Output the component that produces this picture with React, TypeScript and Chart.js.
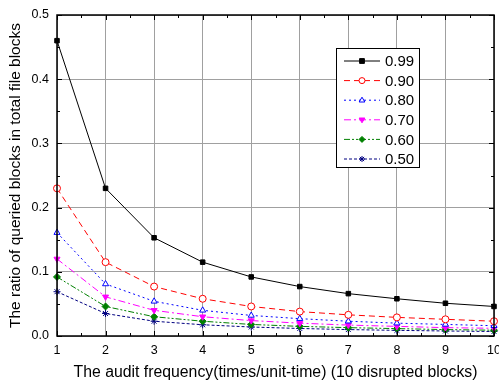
import React, { useEffect, useRef } from 'react';
import { Chart, registerables } from 'chart.js';

Chart.register(...registerables);

const frequencies = [1, 2, 3, 4, 5, 6, 7, 8, 9, 10];
const seriesLabels = ['0.99', '0.90', '0.80', '0.70', '0.60', '0.50'];
const values099 = [0.46, 0.23, 0.153, 0.115, 0.092, 0.077, 0.066, 0.058, 0.051, 0.046];
const values090 = [0.23, 0.115, 0.077, 0.058, 0.046, 0.038, 0.033, 0.029, 0.026, 0.023];
const values080 = [0.161, 0.081, 0.054, 0.04, 0.032, 0.027, 0.023, 0.02, 0.018, 0.016];
const values070 = [0.12, 0.061, 0.04, 0.03, 0.024, 0.02, 0.017, 0.015, 0.013, 0.012];
const values060 = [0.092, 0.046, 0.03, 0.023, 0.018, 0.015, 0.013, 0.0115, 0.01, 0.009];
const values050 = [0.069, 0.035, 0.023, 0.0175, 0.014, 0.0117, 0.01, 0.0088, 0.0078, 0.007];
const xTitle = 'The audit frequency(times/unit-time) (10 disrupted blocks)';
const yTitle = 'The ratio of queried blocks in total file blocks';

const styles = [
  { color: '#000000', dash: [] as number[], point: 'rect', rot: 0, fill: true },
  { color: '#FF0000', dash: [6, 4], point: 'circle', rot: 0, fill: false },
  { color: '#0000FF', dash: [2, 3], point: 'triangle', rot: 0, fill: false },
  { color: '#FF00FF', dash: [7, 3, 2, 3], point: 'triangle', rot: 180, fill: true },
  { color: '#008000', dash: [6, 2, 2, 2, 2, 2], point: 'rectRot', rot: 0, fill: true },
  { color: '#000080', dash: [3, 2], point: 'star', rot: 0, fill: true },
];

const allValues = [values099, values090, values080, values070, values060, values050];

function drawMarker(ctx: CanvasRenderingContext2D, s: any, x: number, y: number, r: number) {
  ctx.save();
  ctx.setLineDash([]);
  ctx.strokeStyle = s.color;
  ctx.fillStyle = s.fill ? s.color : '#ffffff';
  ctx.lineWidth = 1;
  ctx.beginPath();
  if (s.point === 'rect') {
    ctx.rect(x - r * 0.8, y - r * 0.8, r * 1.6, r * 1.6);
  } else if (s.point === 'circle') {
    ctx.arc(x, y, r, 0, Math.PI * 2);
  } else if (s.point === 'triangle') {
    const d = s.rot === 180 ? -1 : 1;
    ctx.moveTo(x, y - d * r);
    ctx.lineTo(x + r * 0.95, y + d * r * 0.6);
    ctx.lineTo(x - r * 0.95, y + d * r * 0.6);
    ctx.closePath();
  } else if (s.point === 'rectRot') {
    ctx.moveTo(x, y - r);
    ctx.lineTo(x + r, y);
    ctx.lineTo(x, y + r);
    ctx.lineTo(x - r, y);
    ctx.closePath();
  } else if (s.point === 'star') {
    ctx.moveTo(x - r, y); ctx.lineTo(x + r, y);
    ctx.moveTo(x, y - r); ctx.lineTo(x, y + r);
    ctx.moveTo(x - r * 0.7, y - r * 0.7); ctx.lineTo(x + r * 0.7, y + r * 0.7);
    ctx.moveTo(x - r * 0.7, y + r * 0.7); ctx.lineTo(x + r * 0.7, y - r * 0.7);
  }
  if (s.point !== 'star') ctx.fill();
  ctx.stroke();
  ctx.restore();
}

const framePlugin = {
  id: 'frame',
  afterDatasetsDraw(chart: any) {
    const { ctx, chartArea: a, scales } = chart;
    const xs = scales.x;
    const ys = scales.y;
    ctx.save();
    ctx.strokeStyle = '#000';
    ctx.lineWidth = 1;
    ctx.setLineDash([]);
    ctx.beginPath();
    for (let v = 1; v <= 10.001; v += 0.5) {
      const px = Math.round(xs.getPixelForValue(v)) + 0.5;
      const len = Math.abs(v - Math.round(v)) < 0.01 ? 5 : 3;
      ctx.moveTo(px, a.bottom); ctx.lineTo(px, a.bottom - len);
      ctx.moveTo(px, a.top); ctx.lineTo(px, a.top + len);
    }
    for (let v = 0; v <= 0.5001; v += 0.05) {
      const py = Math.round(ys.getPixelForValue(v)) + 0.5;
      const major = Math.abs(v * 10 - Math.round(v * 10)) < 0.01;
      const len = major ? 5 : 3;
      ctx.moveTo(a.left, py); ctx.lineTo(a.left + len, py);
      ctx.moveTo(a.right, py); ctx.lineTo(a.right - len, py);
    }
    ctx.stroke();
    ctx.lineWidth = 1.5;
    ctx.strokeRect(a.left, a.top, a.right - a.left, a.bottom - a.top);

    // legend
    const lx = 336, ly = 48, lw = 83, lh = 119;
    ctx.fillStyle = '#fff';
    ctx.fillRect(lx, ly, lw, lh);
    ctx.lineWidth = 1;
    ctx.strokeRect(lx + 0.5, ly + 0.5, lw, lh);
    ctx.font = '15px Arial, "Liberation Sans", sans-serif';
    ctx.textBaseline = 'middle';
    ctx.textAlign = 'left';
    seriesLabels.forEach((label, i) => {
      const s = styles[i];
      const y = ly + 13 + i * 19.6;
      ctx.save();
      ctx.strokeStyle = s.color;
      ctx.lineWidth = 1;
      ctx.setLineDash(s.dash);
      ctx.beginPath();
      ctx.moveTo(344, y); ctx.lineTo(380, y);
      ctx.stroke();
      ctx.restore();
      drawMarker(ctx, s, 362, y, 3);
      ctx.fillStyle = '#000';
      ctx.fillText(label, 385, y + 1);
    });
    ctx.restore();
  },
};

export default function App() {
  const ref = useRef<HTMLCanvasElement>(null);
  useEffect(() => {
    if (!ref.current) return;
    const datasets = seriesLabels.map((label, i) => {
      const s = styles[i];
      return {
        label,
        data: frequencies.map((f, j) => ({ x: f, y: allValues[i][j] })),
        borderColor: s.color,
        backgroundColor: s.fill ? s.color : '#ffffff',
        borderWidth: 1,
        borderDash: s.dash,
        pointStyle: s.point,
        pointRotation: s.rot,
        pointRadius: s.point === 'rect' ? 3.2 : 3.5,
        pointBorderColor: s.color,
        pointBorderWidth: 1,
        pointBackgroundColor: s.fill ? s.color : '#ffffff',
        tension: 0,
        clip: false as any,
      };
    });
    const font = { family: 'Arial, "Liberation Sans", sans-serif', size: 12.5 };
    const chart = new Chart(ref.current, {
      type: 'line',
      data: { datasets: datasets as any },
      plugins: [framePlugin],
      options: {
        responsive: false,
        animation: false,
        layout: { padding: { top: 15, right: 4, left: 0, bottom: 0 } },
        plugins: { legend: { display: false }, tooltip: { enabled: false } },
        scales: {
          x: {
            type: 'linear',
            min: 1,
            max: 10,
            ticks: { stepSize: 1, padding: 7, color: '#000', font, maxRotation: 0 },
            grid: { color: '#a0a0a0', drawTicks: false, lineWidth: 1 },
            border: { display: false },
            title: {
              display: true,
              text: xTitle,
              color: '#000',
              font: { family: font.family, size: 15.8 },
              padding: { top: 0, bottom: 0 },
            },
            afterFit: (s: any) => { s.height = 46; s.paddingRight = 0; s.paddingLeft = 0; },
          },
          y: {
            type: 'linear',
            min: 0,
            max: 0.5,
            ticks: { stepSize: 0.1, padding: 8, color: '#000', font, callback: (v: any) => Number(v).toFixed(1) },
            grid: { color: '#a0a0a0', drawTicks: false, lineWidth: 1 },
            border: { display: false },
            title: {
              display: true,
              text: yTitle,
              color: '#000',
              font: { family: font.family, size: 15.5 },
              padding: { top: 6, bottom: 0 },
            },
            afterFit: (s: any) => { s.width = 57; s.paddingTop = 0; s.paddingBottom = 0; },
          },
        },
      },
    });
    return () => chart.destroy();
  }, []);
  return (
    <div style={{ position: 'fixed', left: 0, top: 0, width: 499, height: 382, background: '#fff' }}>
      <canvas ref={ref} width={499} height={382} />
    </div>
  );
}
